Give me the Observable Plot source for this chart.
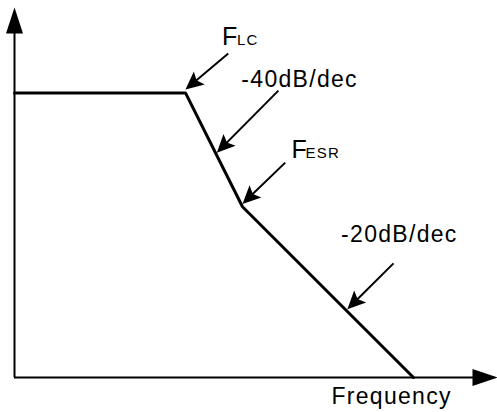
<!DOCTYPE html>
<html>
<head>
<meta charset="utf-8">
<script src="https://cdn.jsdelivr.net/npm/d3@7"></script>
<script src="https://cdn.jsdelivr.net/npm/@observablehq/plot@0.6"></script>
<style>
  html, body { margin: 0; padding: 0; background: #fff; }
</style>
</head>
<body>
<div id="chart"></div>
<script>
// ---- Data (x = log10 of frequency in decades, y = gain in dB) ----
const breakDecades = [0, 3, 4, 7];
const gainDb = [100, 100, 60, 0];

// Label texts and anchor positions (data units)
const labelText = ["-40dB/dec", "-20dB/dec", "Frequency"];
const labelX = [3.98, 5.73, 5.56];
const labelY = [102, 47.5, -9.3];
const bigFText = ["F", "F"];
const bigFX = [3.64, 4.86];
const bigFY = [116.7, 77];
const subText = ["LC", "ESR"];
const subDx = [15, 14];

// Annotation arrows: start -> tip (data units)
const arrowX1 = [3.75, 4.63, 4.75, 6.65];
const arrowY1 = [113.8, 100.8, 75.5, 40.1];
const arrowX2 = [3.0, 3.55, 4.0, 5.84];
const arrowY2 = [101.2, 79.0, 61.0, 24.0];

// Axes extents
const xMax = 8.474;
const yMax = 130;

// ---- Layout ----
const W = 497, H = 412;
const mL = 14, mR = 0, mT = 7, mB = 35;
const xs = d3.scaleLinear().domain([0, xMax]).range([mL, W - mR]);
const ys = d3.scaleLinear().domain([0, yMax]).range([H - mB, mT]);

function headSymbol(angle, len, hw, notch) {
  const ux = Math.cos(angle), uy = Math.sin(angle);
  const bx = -ux * len, by = -uy * len;
  const px = -uy, py = ux;
  return {
    draw(ctx) {
      ctx.moveTo(0, 0);
      ctx.lineTo(bx + px * hw, by + py * hw);
      ctx.lineTo(-ux * len * notch, -uy * len * notch);
      ctx.lineTo(bx - px * hw, by - py * hw);
      ctx.closePath();
    }
  };
}

const curve = breakDecades.map((d, i) => ({x: d, y: gainDb[i]}));
const arrows = arrowX1.map((x1, i) => {
  const dxp = xs(arrowX2[i]) - xs(x1);
  const dyp = ys(arrowY2[i]) - ys(arrowY1[i]);
  const a = Math.atan2(dyp, dxp);
  const L = Math.hypot(dxp, dyp);
  const t = (L - 12) / L;
  return {
    x1, y1: arrowY1[i], x2: arrowX2[i], y2: arrowY2[i],
    xe: x1 + (arrowX2[i] - x1) * t, ye: arrowY1[i] + (arrowY2[i] - arrowY1[i]) * t,
    angle: a
  };
});
const labels = labelText.map((t, i) => ({t, x: labelX[i], y: labelY[i]}));
const bigF = bigFText.map((t, i) => ({t, x: bigFX[i], y: bigFY[i]}));
const subs = subText.map((t, i) => ({t, x: bigFX[i], y: bigFY[i], dx: subDx[i]}));

const font = "Liberation Sans, Arial, Helvetica, sans-serif";

const marks = [
  // axes
  Plot.ruleX([0], {y1: 0, y2: yMax - 5, strokeWidth: 2, stroke: "black"}),
  Plot.ruleY([0], {x1: 0, x2: xMax - 0.3, strokeWidth: 2, stroke: "black"}),
  Plot.dot([{x: 0, y: yMax}], {x: "x", y: "y", symbol: headSymbol(-Math.PI / 2, 26, 8.5, 1), fill: "black", stroke: "none"}),
  Plot.dot([{x: xMax, y: 0}], {x: "x", y: "y", symbol: headSymbol(0, 25, 8.5, 1), fill: "black", stroke: "none"}),
  // response curve
  Plot.line(curve, {x: "x", y: "y", stroke: "black", strokeWidth: 3, strokeLinejoin: "miter"}),
  // annotation arrows
  Plot.link(arrows, {x1: "x1", y1: "y1", x2: "xe", y2: "ye", stroke: "black", strokeWidth: 2}),
  ...arrows.map(a => Plot.dot([a], {x: "x2", y: "y2", symbol: headSymbol(a.angle, 18, 8.5, 0.8), fill: "black", stroke: "none"})),
  // labels
  Plot.text(labels, {x: "x", y: "y", text: "t", textAnchor: "start", lineAnchor: "bottom", fontSize: 23, fill: "black", fontFamily: font}),
  Plot.text(bigF, {x: "x", y: "y", text: "t", textAnchor: "start", lineAnchor: "bottom", fontSize: 25, fill: "black", fontFamily: font}),
  ...subs.map(s => Plot.text([s], {x: "x", y: "y", text: "t", dx: s.dx, textAnchor: "start", lineAnchor: "bottom", fontSize: 15, fill: "black", fontFamily: font}))
];

const chart = Plot.plot({
  width: W, height: H,
  marginLeft: mL, marginRight: mR, marginTop: mT, marginBottom: mB,
  x: {domain: [0, xMax], axis: null},
  y: {domain: [0, yMax], axis: null},
  style: {background: "white", letterSpacing: "1.3px", overflow: "visible"},
  marks
});
document.getElementById("chart").appendChild(chart);
</script>
</body>
</html>
